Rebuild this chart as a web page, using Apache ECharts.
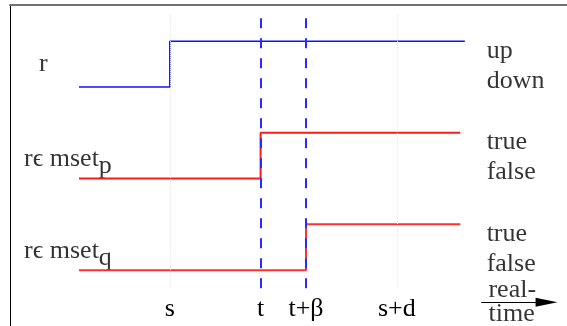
<!DOCTYPE html>
<html>
<head>
<meta charset="utf-8">
<script src="https://cdn.jsdelivr.net/npm/echarts@6/dist/echarts.min.js"></script>
<style>
html,body{margin:0;padding:0;background:#fff;}
#c{width:567px;height:326px;}
</style>
</head>
<body>
<div id="c"></div>
<script>
// time axis: s = 0, one unit = the beta interval
const timeTicks = [0, 2, 3, 5];
const timeTickLabels = ['s', 't', 't+β', 's+d'];

// signal levels (row low/high values)
const rTimes = [-2.0, 0, 6.5];
const rLevels = [5, 6, 6];
const pTimes = [-2.0, 2, 6.4];
const pLevels = [3, 4, 4];
const qTimes = [-2.0, 3, 6.4];
const qLevels = [1, 2, 2];

const markerTimes = [2, 3];      // t, t+β (dashed)
const guideTimes = [0, 5];       // s, s+d (faint dotted)

const signalNames = ['r', 'rϵ mset', 'rϵ mset'];
const signalSubs = ['', 'p', 'q'];
const stateLabels = [['up', 'down'], ['true', 'false'], ['true', 'false']];
const rowMid = [5.5, 3.5, 1.5];

const FONT = '"Liberation Serif", "Times New Roman", serif';
const FS = 26;

function zip(xs, ys) { return xs.map((x, i) => [x, ys[i]]); }

const chart = echarts.init(document.getElementById('c'), null, {renderer: 'canvas'});

const dashedLines = markerTimes.map(t => [{coord: [t, 6.5]}, {coord: [t, 0.6]}]);
const dottedLines = guideTimes.map(t => [{coord: [t, 6.57]}, {coord: [t, 0.65]}]);

const nameLabels = signalNames.map((n, i) => ({
  value: [i === 0 ? -2.88 : -3.21, i === 0 ? rowMid[0] : rowMid[i] - 0.16],
  label: {
    formatter: signalSubs[i] ? '{m|' + n + '}{s|' + signalSubs[i] + '}' : '{m|' + n + '}',
  }
}));
const stateLabelData = stateLabels.map((s, i) => ({
  value: [6.98, rowMid[i] - 0.04],
  label: {formatter: s.join('\n')}
}));

chart.setOption({
  animation: false,
  backgroundColor: '#fff',
  grid: {left: 10, right: 0, top: 4.5, bottom: 0, containLabel: false},
  xAxis: [{
    type: 'value', min: -3.52, max: 8.75, position: 'bottom',
    axisLine: {show: false}, axisTick: {show: false}, splitLine: {show: false},
    axisLabel: {
      show: true, inside: true, margin: 4,
      customValues: timeTicks,
      formatter: v => timeTickLabels[timeTicks.indexOf(v)] || '',
      fontFamily: FONT, fontSize: FS, color: '#000'
    }
  }, {
    type: 'value', min: -3.52, max: 8.75, position: 'top',
    axisLine: {show: true, lineStyle: {color: '#707070', width: 2}},
    axisTick: {show: false}, axisLabel: {show: false}, splitLine: {show: false}
  }],
  yAxis: {
    type: 'value', min: -0.22, max: 6.8,
    axisLine: {show: true, onZero: false, lineStyle: {color: '#000', width: 1}},
    axisTick: {show: false}, axisLabel: {show: false}, splitLine: {show: false}
  },
  series: [
    {
      type: 'line', name: 'guides', data: [], silent: true,
      markLine: {
        silent: true, symbol: ['none', 'none'], label: {show: false},
        lineStyle: {color: '#dcf2dc', width: 1, type: 'dotted'},
        data: dottedLines
      }
    },
    {
      type: 'line', name: 'r', step: 'end', data: zip(rTimes, rLevels),
      showSymbol: false, symbol: 'none', silent: true,
      lineStyle: {color: '#1010ff', width: 1.5}
    },
    {
      type: 'line', name: 'p', step: 'end', data: zip(pTimes, pLevels),
      showSymbol: false, symbol: 'none', silent: true,
      lineStyle: {color: '#ff1a1a', width: 2}
    },
    {
      type: 'line', name: 'q', step: 'end', data: zip(qTimes, qLevels),
      showSymbol: false, symbol: 'none', silent: true,
      lineStyle: {color: '#ff3030', width: 2}
    },
    {
      type: 'line', name: 'markers', data: [], silent: true,
      markLine: {
        silent: true, symbol: ['none', 'none'], label: {show: false},
        lineStyle: {color: '#2a2aff', width: 2, type: [10, 10]},
        data: dashedLines
      }
    },
    {
      type: 'line', name: 'timeArrow', data: [], silent: true,
      markLine: {
        silent: true, symbol: ['none', 'triangle'], symbolSize: [9, 22],
        label: {show: false},
        lineStyle: {color: '#000', width: 1, type: 'solid'},
        data: [[{coord: [6.86, 0.3]}, {coord: [8.3, 0.3]}]]
      }
    },
    {
      type: 'scatter', name: 'names', symbolSize: 0, silent: true,
      data: nameLabels,
      label: {
        show: true, position: 'right', distance: 0, color: '#000',
        rich: {
          m: {fontFamily: FONT, fontSize: FS, lineHeight: 26, verticalAlign: 'top', color: '#000'},
          s: {fontFamily: FONT, fontSize: FS, lineHeight: 33, verticalAlign: 'bottom', color: '#000'}
        }
      }
    },
    {
      type: 'scatter', name: 'states', symbolSize: 0, silent: true,
      data: stateLabelData,
      label: {
        show: true, position: 'right', distance: 0, color: '#000',
        fontFamily: FONT, fontSize: FS, lineHeight: 30
      }
    },
    {
      type: 'scatter', name: 'axisName', symbolSize: 0, silent: true,
      data: [{value: [7.02, 0.3], label: {formatter: 'real-\ntime'}}],
      label: {
        show: true, position: 'right', distance: 0, color: '#000',
        fontFamily: FONT, fontSize: FS, lineHeight: 24
      }
    }
  ]
});
</script>
</body>
</html>
